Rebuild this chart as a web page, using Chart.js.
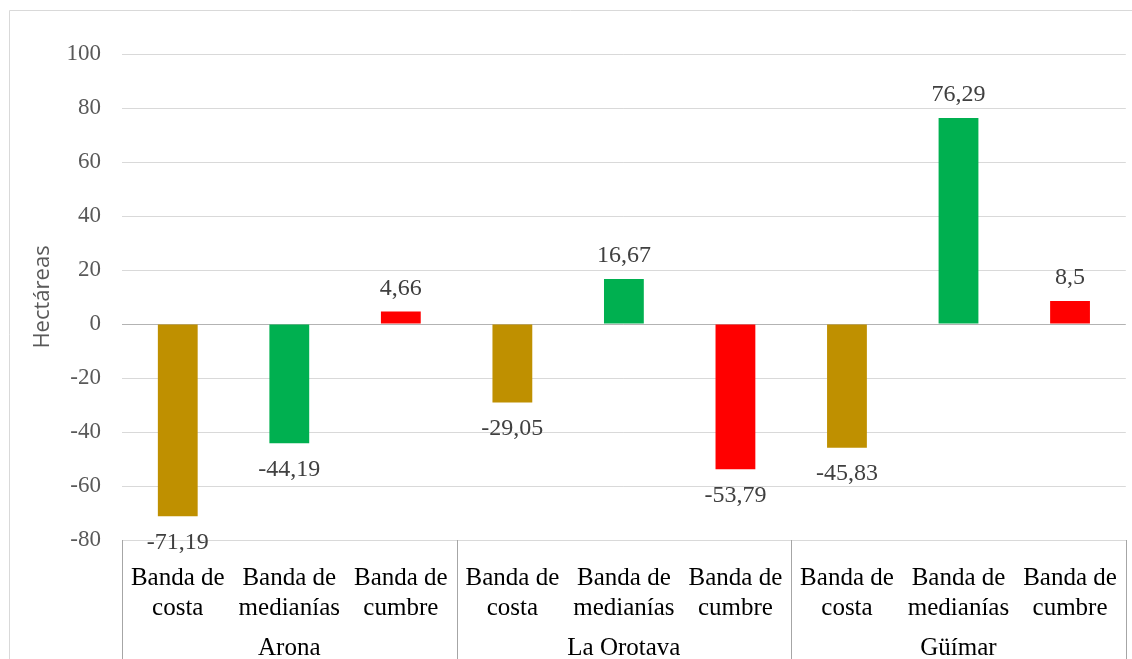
<!DOCTYPE html>
<html>
<head>
<meta charset="utf-8">
<script src="https://cdn.jsdelivr.net/npm/chart.js@4"></script>
<style>
    body { margin: 0; background: #fff; }
    #wrap { position: relative; width: 1132px; height: 659px; }
</style>
</head>
<body>
<div id="wrap"><canvas id="myChart" width="1132" height="659"></canvas></div>
<script>
// Dane wykresu
var groups = ['Arona', 'La Orotava', 'Güímar'];
var bands = [['Banda de', 'costa'], ['Banda de', 'medianías'], ['Banda de', 'cumbre']];
var aronaValues = [-71.19, -44.19, 4.66];
var orotavaValues = [-29.05, 16.67, -53.79];
var guimarValues = [-45.83, 76.29, 8.5];
var bandColors = ['#BF9000', '#00B050', '#FF0000'];
var yTicks = [-80, -60, -40, -20, 0, 20, 40, 60, 80, 100];

var labels = [];
var values = [];
var colors = [];
[aronaValues, orotavaValues, guimarValues].forEach(function(groupValues) {
    groupValues.forEach(function(v, i) {
        labels.push(bands[i]);
        values.push(v);
        colors.push(bandColors[i]);
    });
});

var serif = "'Liberation Serif', 'Times New Roman', serif";

// Ramka i etykiety wartości
var decorPlugin = {
    id: 'decor',
    beforeDraw: function(chart) {
        var ctx = chart.ctx;
        ctx.save();
        ctx.strokeStyle = '#d9d9d9';
        ctx.lineWidth = 1;
        ctx.beginPath();
        ctx.moveTo(9.5, chart.height);
        ctx.lineTo(9.5, 10.5);
        ctx.lineTo(chart.width, 10.5);
        ctx.stroke();
        ctx.restore();
    },
    afterDatasetsDraw: function(chart) {
        var ctx = chart.ctx;
        var meta = chart.getDatasetMeta(0);
        ctx.save();
        ctx.font = '24px ' + serif;
        ctx.fillStyle = '#404040';
        ctx.textAlign = 'center';
        ctx.textBaseline = 'middle';
        meta.data.forEach(function(bar, i) {
            var v = values[i];
            var y = v >= 0 ? bar.y - 23 : bar.y + 26;
            ctx.fillText(String(v).replace('.', ','), bar.x, y);
        });
        ctx.restore();
    },
    afterDraw: function(chart) {
        // Grupy na osi X
        var ctx = chart.ctx;
        var area = chart.chartArea;
        var step = area.width / labels.length;
        ctx.save();
        ctx.strokeStyle = '#a6a6a6';
        ctx.lineWidth = 1;
        for (var g = 0; g <= groups.length; g++) {
            var x = Math.round(area.left + g * 3 * step) + 0.5;
            ctx.beginPath();
            ctx.moveTo(x, area.bottom);
            ctx.lineTo(x, chart.height);
            ctx.stroke();
        }
        ctx.font = '25px ' + serif;
        ctx.fillStyle = '#000';
        ctx.textAlign = 'center';
        ctx.textBaseline = 'middle';
        groups.forEach(function(name, g) {
            ctx.fillText(name, area.left + (g * 3 + 1.5) * step, 648);
        });
        ctx.restore();
    }
};

var ctx = document.getElementById('myChart').getContext('2d');
var chart = new Chart(ctx, {
    type: 'bar',
    data: {
        labels: labels,
        datasets: [{
            data: values,
            backgroundColor: colors,
            borderWidth: 0,
            categoryPercentage: 1,
            barPercentage: 0.357
        }]
    },
    options: {
        responsive: false,
        animation: false,
        events: [],
        layout: {
            padding: { left: 26, right: 2, top: 54, bottom: 0 }
        },
        plugins: {
            legend: { display: false },
            tooltip: { enabled: false }
        },
        scales: {
            x: {
                grid: { display: false },
                border: { display: true, color: '#d9d9d9' },
                ticks: {
                    color: '#000',
                    padding: 15,
                    maxRotation: 0,
                    autoSkip: false,
                    font: { family: serif, size: 25, lineHeight: 1.2 }
                },
                afterFit: function(scale) { scale.height = 119; }
            },
            y: {
                min: -80,
                max: 100,
                afterBuildTicks: function(scale) {
                    scale.ticks = yTicks.map(function(v) { return { value: v }; });
                },
                grid: {
                    drawTicks: false,
                    color: function(c) { return c.tick && c.tick.value === 0 ? '#b3b3b3' : '#d9d9d9'; }
                },
                border: { display: false },
                ticks: {
                    color: '#595959',
                    padding: 21,
                    font: { family: serif, size: 23 }
                },
                title: {
                    display: true,
                    text: 'Hectáreas',
                    color: '#595959',
                    font: { family: "'Open Sans', sans-serif", size: 22 }
                },
                afterFit: function(scale) { scale.width = 96; }
            }
        }
    },
    plugins: [decorPlugin]
});
</script>
</body>
</html>
